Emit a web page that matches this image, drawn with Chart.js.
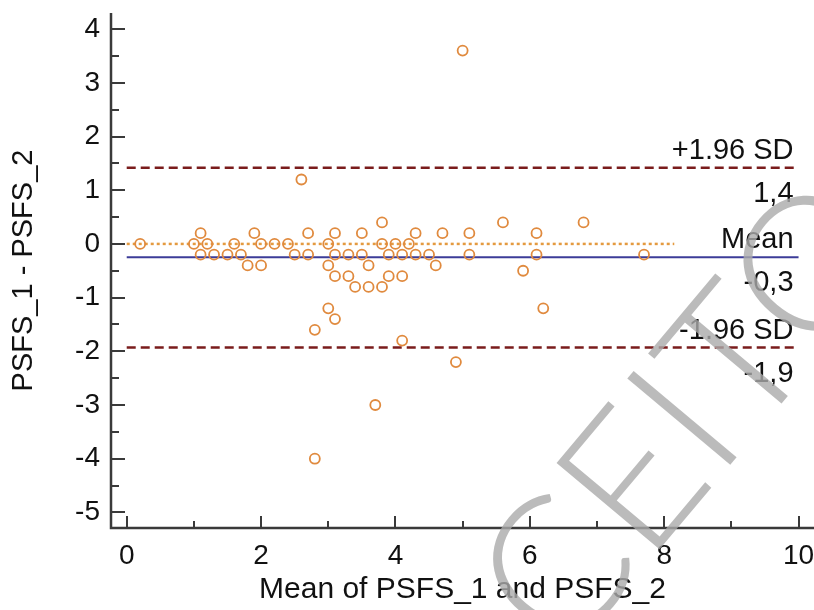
<!DOCTYPE html>
<html>
<head>
<meta charset="utf-8">
<script src="https://cdn.jsdelivr.net/npm/chart.js@4"></script>
<style>
  html, body { margin: 0; padding: 0; background: #fff; }
  #wrap { width: 814px; height: 610px; }
</style>
</head>
<body>
<div id="wrap"><canvas id="baChart" width="814" height="610"></canvas></div>
<script>
// tick labels
const xTicks = [0, 2, 4, 6, 8, 10];
const yTicks = [-5, -4, -3, -2, -1, 0, 1, 2, 3, 4];

// mean of the two measurements (x) and their difference (y), read row by row
const meanVals = [
  0.2, 1.0, 1.2, 1.6, 2.0, 2.2, 2.4, 3.0, 3.8, 4.0, 4.2,          // 0
  1.1, 1.9, 2.7, 3.1, 3.5, 4.3, 4.7, 5.1, 6.1,                    // 0.2
  3.8, 5.6, 6.8,                                                  // 0.4
  1.1, 1.3, 1.5, 1.7, 2.5, 2.7, 3.1, 3.3, 3.5, 3.9, 4.1, 4.3, 4.5, 5.1, 6.1, 7.7, // -0.2
  1.8, 2.0, 3.0, 3.6, 4.6,                                        // -0.4
  3.1, 3.3, 3.9, 4.1,                                             // -0.6
  3.4, 3.6, 3.8,                                                  // -0.8
  5.9, 2.6, 5.0, 3.0, 3.1, 2.8, 4.1, 4.9, 3.7, 2.8, 6.2           // others
];
const diffVals = [
  0, 0, 0, 0, 0, 0, 0, 0, 0, 0, 0,
  0.2, 0.2, 0.2, 0.2, 0.2, 0.2, 0.2, 0.2, 0.2,
  0.4, 0.4, 0.4,
  -0.2, -0.2, -0.2, -0.2, -0.2, -0.2, -0.2, -0.2, -0.2, -0.2, -0.2, -0.2, -0.2, -0.2, -0.2, -0.2,
  -0.4, -0.4, -0.4, -0.4, -0.4,
  -0.6, -0.6, -0.6, -0.6,
  -0.8, -0.8, -0.8,
  -0.5, 1.2, 3.6, -1.2, -1.4, -1.6, -1.8, -2.2, -3.0, -4.0, -1.2
];

// limits of agreement
const limitNames = ['+1.96 SD', 'Mean', '-1.96 SD'];
const limitValues = [1.42, -0.25, -1.93];
const limitTexts = ['1,4', '-0,3', '-1,9'];
const lineStart = 0, lineEnd = 10;
const zeroLineEnd = 8.15;

const points = meanVals.map((m, i) => ({ x: m, y: diffVals[i] }));
const hLine = (v, x1, x2) => [{ x: x1, y: v }, { x: x2, y: v }];
const FONT = '"Liberation Sans", Arial, sans-serif';

// axes drawn inside the plot, ticks pointing inwards
const axesPlugin = {
  id: 'axesInside',
  afterDatasetsDraw(chart) {
    const ctx = chart.ctx;
    const { left, right, top, bottom } = chart.chartArea;
    const xs = chart.scales.x, ys = chart.scales.y;
    ctx.save();
    ctx.strokeStyle = '#3a3a3a';
    ctx.lineWidth = 2.5;
    ctx.beginPath();
    ctx.moveTo(left, top); ctx.lineTo(left, bottom); ctx.lineTo(right, bottom);
    ctx.stroke();
    ctx.lineWidth = 2;
    ctx.beginPath();
    for (let v = -5; v <= 4; v += 0.5) {
      const py = Math.round(ys.getPixelForValue(v));
      const len = Number.isInteger(v) ? 14 : 8;
      ctx.moveTo(left, py); ctx.lineTo(left + len, py);
    }
    for (let v = 0; v <= 10; v += 1) {
      const px = Math.round(xs.getPixelForValue(v));
      const len = v % 2 === 0 ? 12 : 7;
      ctx.moveTo(px, bottom); ctx.lineTo(px, bottom - len);
    }
    ctx.stroke();

    // labels of the limit lines
    ctx.fillStyle = '#111';
    ctx.font = '29px ' + FONT;
    ctx.textAlign = 'right';
    ctx.textBaseline = 'alphabetic';
    const tx = xs.getPixelForValue(lineEnd) - 5;
    limitNames.forEach((name, i) => {
      const py = ys.getPixelForValue(limitValues[i]);
      ctx.fillText(name, tx, py - 9);
      ctx.fillText(limitTexts[i], tx, py + 34);
    });
    ctx.restore();
  },
  afterDraw(chart) {
    // grey "ACEITO" watermark over the figure
    const ctx = chart.ctx;
    ctx.save();
    ctx.fillStyle = 'rgba(170,170,170,0.8)';
    ctx.font = '300 190px Lato, ' + FONT;
    ctx.translate(486, 756);
    ctx.rotate(-50 * Math.PI / 180);
    ctx.fillText('ACEITO', 0, 0);
    ctx.restore();
  }
};

const ctx = document.getElementById('baChart').getContext('2d');
const myChart = new Chart(ctx, {
  type: 'scatter',
  data: {
    datasets: [
      {
        data: points,
        order: 0,
        pointStyle: 'circle',
        pointRadius: 5,
        borderWidth: 1.8,
        borderColor: '#E08A3E',
        backgroundColor: 'rgba(0,0,0,0)'
      },
      {
        type: 'line', data: hLine(0, lineStart, zeroLineEnd), order: 1,
        borderColor: '#E49A40', borderWidth: 2.5, borderDash: [3, 3], pointRadius: 0
      },
      {
        type: 'line', data: hLine(limitValues[1], lineStart, lineEnd), order: 1,
        borderColor: '#3C3C98', borderWidth: 2, pointRadius: 0
      },
      {
        type: 'line', data: hLine(limitValues[0], lineStart, lineEnd), order: 1,
        borderColor: '#7A1C1C', borderWidth: 2.5, borderDash: [9, 5], pointRadius: 0
      },
      {
        type: 'line', data: hLine(limitValues[2], lineStart, lineEnd), order: 1,
        borderColor: '#7A1C1C', borderWidth: 2.5, borderDash: [9, 5], pointRadius: 0
      }
    ]
  },
  options: {
    responsive: false,
    animation: false,
    layout: { autoPadding: false, padding: { top: 13, right: 0, left: 0, bottom: 0 } },
    plugins: { legend: { display: false }, tooltip: { enabled: false } },
    scales: {
      x: {
        type: 'linear', min: -0.234, max: 10.23,
        afterBuildTicks: s => { s.ticks = xTicks.map(v => ({ value: v })); },
        afterFit: s => { s.height = 82; s.paddingLeft = 0; s.paddingRight = 0; },
        grid: { display: false, drawTicks: false },
        border: { display: false },
        ticks: { color: '#111', padding: 11, font: { size: 28, family: FONT } },
        title: {
          display: true, text: 'Mean of PSFS_1 and PSFS_2', color: '#111',
          padding: { top: 0, bottom: 2 },
          font: { size: 30, family: FONT }
        }
      },
      y: {
        type: 'linear', min: -5.29, max: 4.3,
        afterBuildTicks: s => { s.ticks = yTicks.map(v => ({ value: v })); },
        afterFit: s => { s.width = 111; s.paddingTop = 0; s.paddingBottom = 0; },
        grid: { display: false, drawTicks: false },
        border: { display: false },
        ticks: { color: '#111', padding: 11, font: { size: 28, family: FONT } },
        title: {
          display: true, text: 'PSFS_1 - PSFS_2', color: '#111',
          padding: { top: 7, bottom: 0 },
          font: { size: 29, family: FONT }
        }
      }
    }
  },
  plugins: [axesPlugin]
});
</script>
</body>
</html>
